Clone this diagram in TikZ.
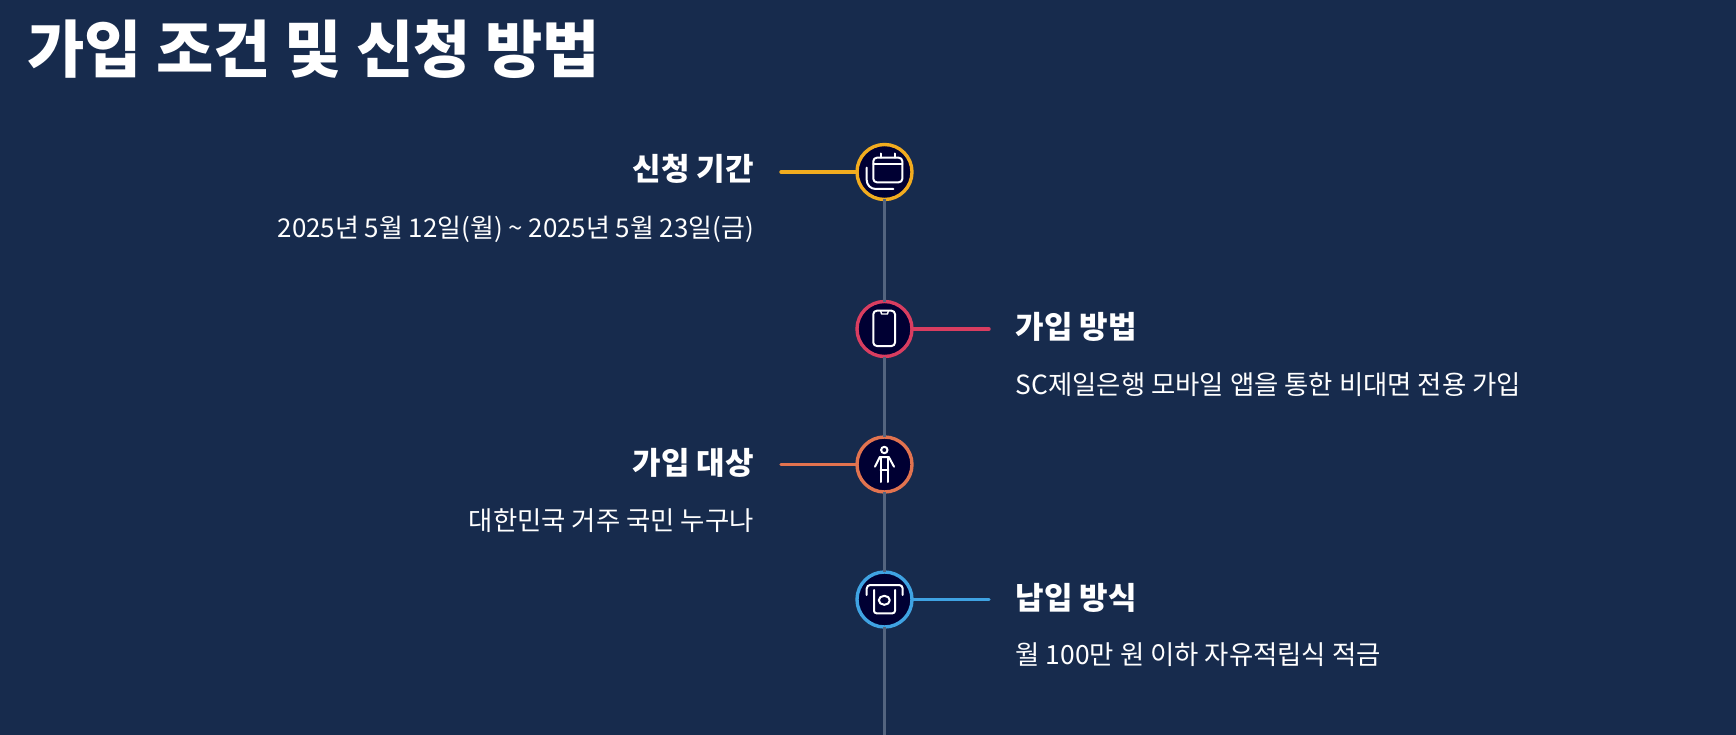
\documentclass[tikz,border=0pt]{standalone}
\usepackage{fontspec}
\setmainfont{Noto Sans CJK KR}
\definecolor{bg}{HTML}{172B4D}
\definecolor{disc}{HTML}{000033}
\definecolor{spine}{HTML}{53647F}
\definecolor{cyellow}{HTML}{F2AC1F}
\definecolor{cred}{HTML}{D93D60}
\definecolor{corange}{HTML}{E2734F}
\definecolor{cblue}{HTML}{3FA3E3}
\tikzset{
  x=1pt,y=-1pt,
  stopdot/.style={circle,draw=#1,fill=disc,line width=3.4pt,minimum size=55pt,inner sep=0pt,outer sep=0pt},
  arm/.style={draw=#1,line width=3.4pt,line cap=round},
  spineline/.style={draw=spine,line width=3.4pt},
  icon/.style={draw=white,line width=2pt,line cap=round,line join=round},
  titletext/.style={font=\fontsize{62.3}{64}\selectfont\bfseries,text=white,anchor=base west,inner sep=0pt},
  headtext/.style={font=\fontsize{31}{33}\selectfont\bfseries,text=white,inner sep=0pt},
  subtext/.style={font=\fontsize{26.4}{28}\selectfont,text=white,inner sep=0pt},
}
\begin{document}
\begin{tikzpicture}
\useasboundingbox[fill=bg] (0,0) rectangle (1736,735);
\node[titletext] (title) at (27,73) {가입 조건 및 신청 방법};

\node[stopdot=cyellow] (c1) at (884.5,172) {};
\node[stopdot=cred] (c2) at (884.5,329) {};
\node[stopdot=corange] (c3) at (884.5,464.5) {};
\node[stopdot=cblue] (c4) at (884.5,599.5) {};
\coordinate (a1) at (781,172);
\coordinate (a2) at (989,329);
\coordinate (a3) at (781,464.5);
\coordinate (a4) at (989,599.5);
\coordinate (bottom) at (884.5,735);

\draw[spineline] (c1) -- (c2);
\draw[spineline] (c2) -- (c3);
\draw[spineline] (c3) -- (c4);
\draw[spineline] (c4) -- (bottom);
\draw[arm=cyellow] (a1) -- (c1);
\draw[arm=cred] (c2) -- (a2);
\draw[arm=corange] (a3) -- (c3);
\draw[arm=cblue] (c4) -- (a4);

\node[headtext,anchor=base east] (h1) at (754,181) {신청 기간};
\node[subtext,anchor=base east,font=\fontsize{25.9}{28}\selectfont] (s1) at (754,237) {2025년 5월 12일(월) \textasciitilde{} 2025년 5월 23일(금)};
\node[headtext,anchor=base west] (h2) at (1015.5,338) {가입 방법};
\node[subtext,anchor=base west] (s2) at (1015.5,394) {SC제일은행 모바일 앱을 통한 비대면 전용 가입};
\node[headtext,anchor=base east] (h3) at (754,474.5) {가입 대상};
\node[subtext,anchor=base east] (s3) at (754,530) {대한민국 거주 국민 누구나};
\node[headtext,anchor=base west] (h4) at (1015.5,609) {납입 방식};
\node[subtext,anchor=base west] (s4) at (1015.5,664.5) {월 100만 원 이하 자유적립식 적금};

% calendar
\draw[icon,rounded corners=3.5pt] (873.3,157.7) rectangle (902.3,182.3);
\draw[icon] (873.3,164.3) -- (902.3,164.3);
\draw[icon] (880.7,153.5) -- (880.7,157.7) (895,153.5) -- (895,157.7);
\draw[icon,rounded corners=9pt] (866.7,167.7) -- (866.7,189) -- (893.3,189);
% phone
\draw[icon,rounded corners=3.5pt] (873.3,310.7) rectangle (895,346);
\draw[icon,line width=1.4pt] (880.7,311) -- (881.5,314) -- (887.5,314) -- (888.3,311);
% person
\draw[icon] (884.3,450) circle (3.2pt);
\draw[icon] (875,466.7) -- (879.8,457) -- (888.8,457) -- (894,466.7);
\draw[icon] (880.7,457) -- (880.7,482) (888.3,457) -- (888.3,482) (880.7,470) -- (888.3,470);
% payment
\draw[icon,rounded corners=3.5pt] (866.7,595) -- (866.7,585) -- (902.7,585) -- (902.7,595);
\draw[icon,rounded corners=2.5pt] (874,590) -- (874,613.3) -- (895,613.3) -- (895,590);
\draw[icon] (884.3,600.3) ellipse (5.5pt and 4.5pt);
\end{tikzpicture}
\end{document}
